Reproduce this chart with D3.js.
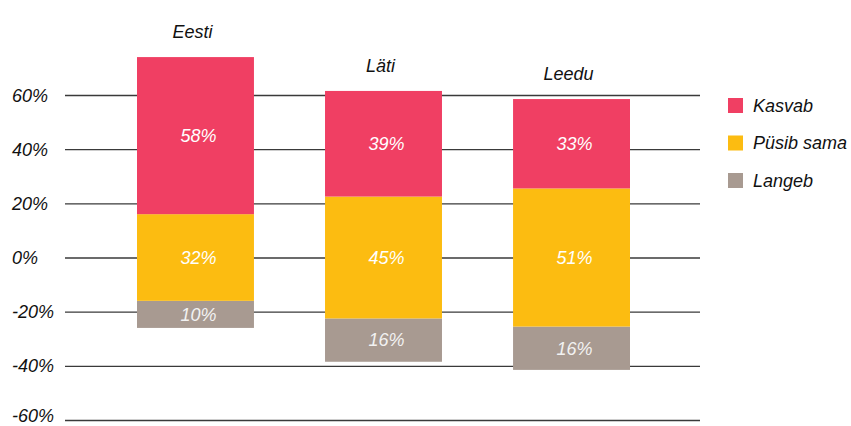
<!DOCTYPE html>
<html>
<head>
<meta charset="utf-8">
<script src="https://cdn.jsdelivr.net/npm/d3@7/dist/d3.min.js"></script>
<style>
  html, body { margin: 0; padding: 0; background: #fff; }
  svg { display: block; }
  text { font-family: "Liberation Sans", Arial, Helvetica, sans-serif; font-style: italic; }
</style>
</head>
<body>
<svg id="chart" width="851" height="426"></svg>
<script>
// Countries and the share of answers per outlook (percent)
const categories = ["Eesti", "Läti", "Leedu"];
const kasvab = [58, 39, 33];      // growing
const pusibSama = [32, 45, 51];   // staying the same
const langeb = [10, 16, 16];      // declining
const seriesNames = ["Kasvab", "Püsib sama", "Langeb"];
const tickValues = [-60, -40, -20, 0, 20, 40, 60];

const colors = { "Kasvab": "#F03F63", "Püsib sama": "#FCBC11", "Langeb": "#A89A91" };

const W = 851, H = 426;
const svg = d3.select("#chart");

const y = d3.scaleLinear().domain([-60, 60]).range([420, 95]);
const x = d3.scaleBand().domain(categories).range([137, 630]).paddingInner(0.378).paddingOuter(0);

// Gridlines with percent labels
const gridLeft = 65, gridRight = 700;
const axis = d3.axisLeft(y)
  .tickValues(tickValues)
  .tickSize(-(gridRight - gridLeft))
  .tickFormat(d => d + "%");
const gAxis = svg.append("g")
  .attr("transform", `translate(${gridLeft},0)`)
  .call(axis);
gAxis.select(".domain").remove();
gAxis.selectAll(".tick line").attr("stroke", "#3a3a3a").attr("stroke-width", 1.3);
gAxis.selectAll(".tick text")
  .attr("x", 12 - gridLeft)
  .attr("dy", null)
  .attr("y", d => Math.min(6, H - 5 - y(d)))   // keep the lowest label inside the frame
  .attr("text-anchor", "start")
  .attr("fill", "#111")
  .style("font-size", "18px");

// Diverging stack: the neutral segment is centred on 0%
const segments = [];
categories.forEach((c, i) => {
  const half = pusibSama[i] / 2;
  segments.push({ cat: c, key: "Langeb", v: langeb[i], y0: -half - langeb[i], y1: -half });
  segments.push({ cat: c, key: "Püsib sama", v: pusibSama[i], y0: -half, y1: half });
  segments.push({ cat: c, key: "Kasvab", v: kasvab[i], y0: half, y1: half + kasvab[i] });
});

const gBars = svg.append("g");
gBars.selectAll("rect")
  .data(segments)
  .join("rect")
  .attr("x", d => x(d.cat))
  .attr("width", x.bandwidth())
  .attr("y", d => y(d.y1))
  .attr("height", d => y(d.y0) - y(d.y1))
  .attr("fill", d => colors[d.key]);

gBars.selectAll("text.val")
  .data(segments)
  .join("text")
  .attr("class", "val")
  .attr("x", d => x(d.cat) + x.bandwidth() / 2 + 3)
  .attr("y", d => (y(d.y0) + y(d.y1)) / 2)
  .attr("dy", "0.35em")
  .attr("text-anchor", "middle")
  .attr("fill", d => d.key === "Langeb" ? "#f2f2f2" : "#fff")
  .style("font-size", "18px")
  .text(d => d.v + "%");

// Country titles above each bar
const tops = categories.map((c, i) => pusibSama[i] / 2 + kasvab[i]);
svg.append("g").selectAll("text")
  .data(categories)
  .join("text")
  .attr("x", d => x(d) + x.bandwidth() / 2 - 3)
  .attr("y", (d, i) => y(tops[i]) - 19)
  .attr("text-anchor", "middle")
  .attr("fill", "#111")
  .style("font-size", "18px")
  .text(d => d);

// Legend
const legend = svg.append("g").attr("transform", "translate(728,98)");
const item = legend.selectAll("g")
  .data(seriesNames)
  .join("g")
  .attr("transform", (d, i) => `translate(0,${i * 37.5})`);
item.append("rect")
  .attr("width", 15).attr("height", 15)
  .attr("fill", d => colors[d]);
item.append("text")
  .attr("x", 25).attr("y", 7.5)
  .attr("dy", "0.35em")
  .attr("fill", "#111")
  .style("font-size", "18px")
  .text(d => d);
</script>
</body>
</html>
